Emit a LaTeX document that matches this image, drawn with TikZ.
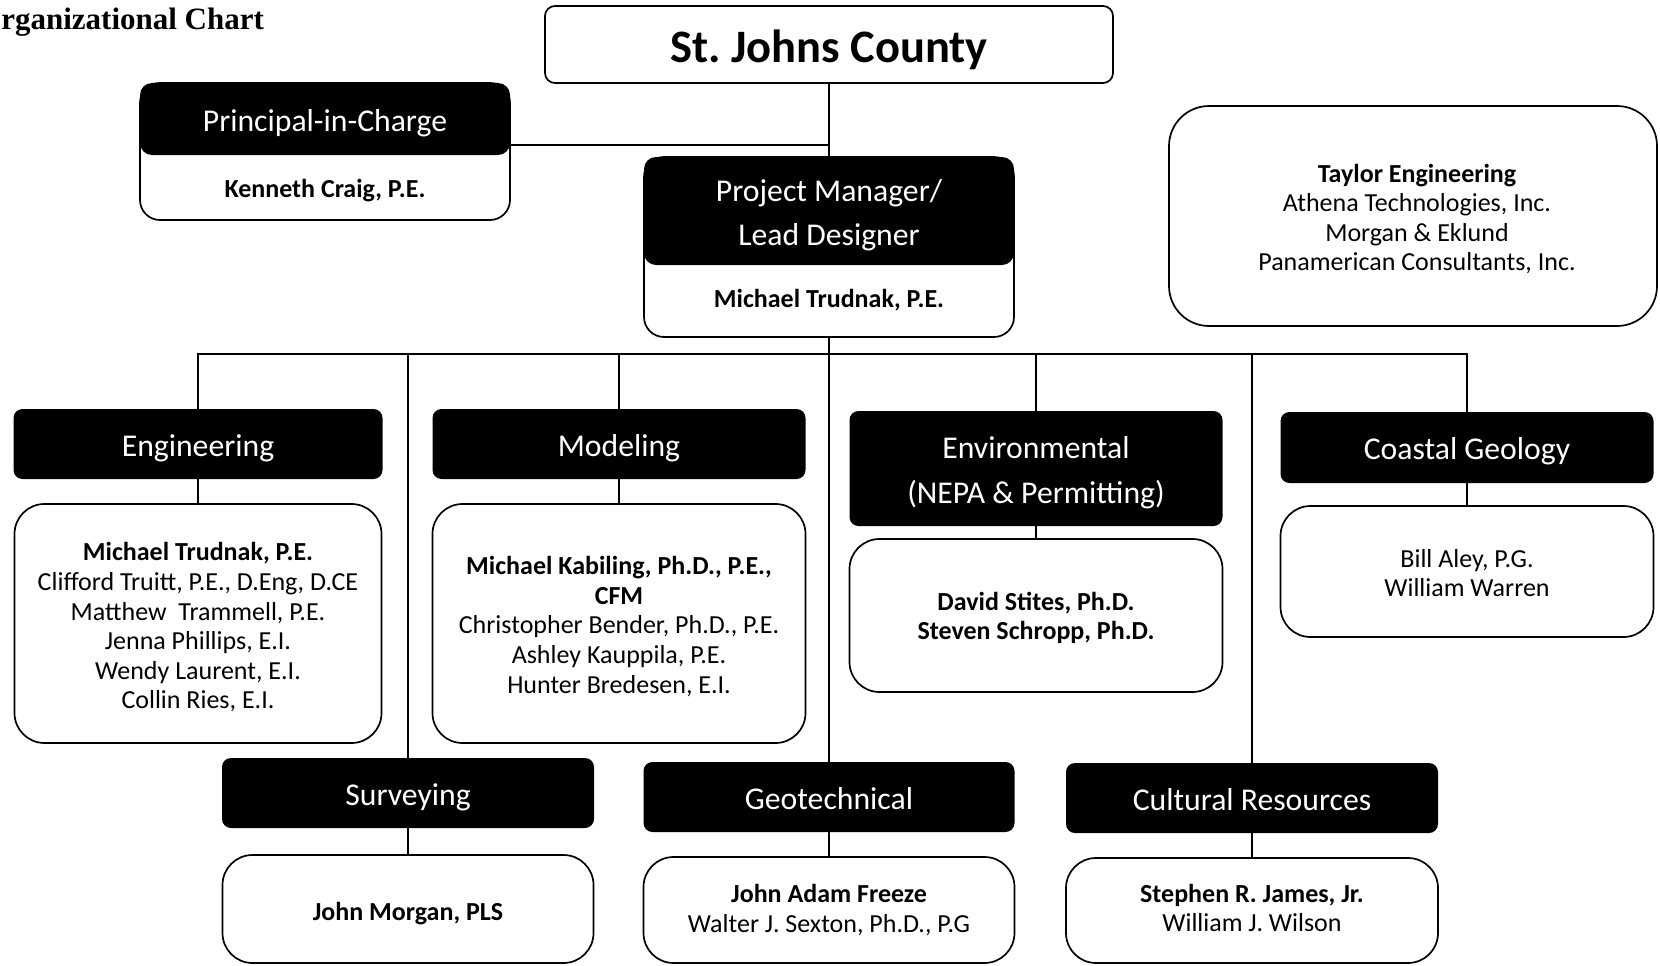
\documentclass[tikz,border=0pt]{standalone}
\usepackage{fontspec}
\setmainfont{Carlito}
\newfontfamily\titlefont{Liberation Serif}
\newcommand\dn[2][-3.5pt]{\raisebox{#1}[\height][\depth]{\begin{tabular}{@{}c@{}}#2\end{tabular}}}
\begin{document}
\frenchspacing
\begin{tikzpicture}[x=1pt,y=-1pt,
  head/.style={fill=black,text=white,rounded corners=9pt,inner sep=0pt,
    font=\fontsize{31.7}{44.5}\selectfont},
  body/.style={draw,line width=1.7pt,rounded corners=30pt,inner sep=0pt,
    font=\fontsize{26}{29.6}\selectfont},
  outerbox/.style={draw,line width=1.7pt,rounded corners=20pt,inner sep=0pt},
  namefont/.style={font=\fontsize{26}{29.6}\selectfont\bfseries,inner sep=0pt},
  link/.style={line width=1.8pt},
  ]
\useasboundingbox (0,0) rectangle (1660,966);
\clip (0,0) rectangle (1660,966);

% title (its first letter is cut by the left edge, as in the reference)
\node[anchor=base west,inner sep=0pt,font=\titlefont\fontsize{31}{36}\selectfont\bfseries] (title) at (-23,30) {Organizational Chart};

% top
\node[draw,line width=1.7pt,rounded corners=10pt,minimum width=568pt,minimum height=77pt,inner sep=0pt,
  font=\fontsize{46.5}{54}\selectfont\bfseries] (sj) at (829,44.5) {\dn[-7pt]{St. Johns County}};

\node[outerbox,minimum width=370pt,minimum height=137pt] (pic) at (325,151.5) {};
\node[head,rounded corners=12pt,minimum width=370pt,minimum height=72pt] (pich) at (325,119) {\dn{Principal-in-Charge}};
\node[namefont] (picn) at (325,191) {Kenneth Craig, P.E.};

\node[outerbox,minimum width=370pt,minimum height=180pt] (pm) at (829,247) {};
\node[head,rounded corners=12pt,minimum width=370pt,minimum height=108pt] (pmh) at (829,211) {\dn{Project Manager/\\Lead Designer}};
\node[namefont] (pmn) at (829,300) {Michael Trudnak, P.E.};

\node[body,rounded corners=40pt,minimum width=488pt,minimum height=220pt] (tay) at (1413,216)
  {\hspace*{8pt}\dn[-4.5pt]{\textbf{Taylor Engineering}\\Athena Technologies, Inc.\\Morgan \& Eklund\\Panamerican Consultants, Inc.}};

% groups
\node[head,minimum width=369pt,minimum height=70pt] (engh) at (198,444) {\dn{Engineering}};
\node[body,minimum width=367pt,minimum height=239pt] (engb) at (198,623.5)
  {\dn[-5.5pt]{\textbf{Michael Trudnak, P.E.}\\Clifford Truitt, P.E., D.Eng, D.CE\\Matthew\ \ Trammell, P.E.\\Jenna Phillips, E.I.\\Wendy Laurent, E.I.\\Collin Ries, E.I.}};

\node[head,minimum width=373pt,minimum height=70pt] (modh) at (619,444) {\dn{Modeling}};
\node[body,minimum width=373pt,minimum height=239pt] (modb) at (619,623.5)
  {\dn[-4.5pt]{\textbf{Michael Kabiling, Ph.D., P.E.,}\\\textbf{CFM}\\Christopher Bender, Ph.D., P.E.\\Ashley Kauppila, P.E.\\Hunter Bredesen, E.I.}};

\node[head,minimum width=373pt,minimum height=115pt] (envh) at (1036,468.5) {\dn{Environmental\\(NEPA \& Permitting)}};
\node[body,minimum width=373pt,minimum height=153pt] (envb) at (1036,615.5)
  {\dn{\textbf{David Stites, Ph.D.}\\\textbf{Steven Schropp, Ph.D.}}};

\node[head,minimum width=373pt,minimum height=71pt] (coah) at (1467,447.5) {\dn{Coastal Geology}};
\node[body,minimum width=373pt,minimum height=131pt] (coab) at (1467,571.5)
  {\dn[-4.5pt]{Bill Aley, P.G.\\William Warren}};

\node[head,minimum width=372pt,minimum height=70pt] (surh) at (408,793) {\dn{Surveying}};
\node[body,minimum width=371pt,minimum height=108pt] (surb) at (408,909)
  {\dn[-5.5pt]{\textbf{John Morgan, PLS}}};

\node[head,minimum width=371pt,minimum height=70pt] (geoh) at (829,797) {\dn{Geotechnical}};
\node[body,minimum width=371pt,minimum height=106pt] (geob) at (829,910)
  {\dn[-1.5pt]{\textbf{John Adam Freeze}\\Walter J. Sexton, Ph.D., P.G}};

\node[head,minimum width=372pt,minimum height=70pt] (culh) at (1252,798) {\dn{Cultural Resources}};
\node[body,minimum width=372pt,minimum height=105pt] (culb) at (1252,910.5)
  {\dn[-0.5pt]{\textbf{Stephen R. James, Jr.}\\William J. Wilson}};

% connectors
\coordinate (j) at (829,145);
\coordinate (bus) at (829,354);
\draw[link] (sj.south) -- (pm.north);
\draw[link] (pic.east |- j) -- (j);
\draw[link] (pm.south) -- (geoh.north);
\draw[link] (engh.north) -- (engh.north |- bus) -| (coah.north);
\draw[link] (surh.north) -- (surh.north |- bus);
\draw[link] (modh.north) -- (modh.north |- bus);
\draw[link] (envh.north) -- (envh.north |- bus);
\draw[link] (culh.north) -- (culh.north |- bus);

\draw[link] (engh.south) -- (engb.north);
\draw[link] (modh.south) -- (modb.north);
\draw[link] (envh.south) -- (envb.north);
\draw[link] (coah.south) -- (coab.north);
\draw[link] (surh.south) -- (surb.north);
\draw[link] (geoh.south) -- (geob.north);
\draw[link] (culh.south) -- (culb.north);
\end{tikzpicture}
\end{document}
